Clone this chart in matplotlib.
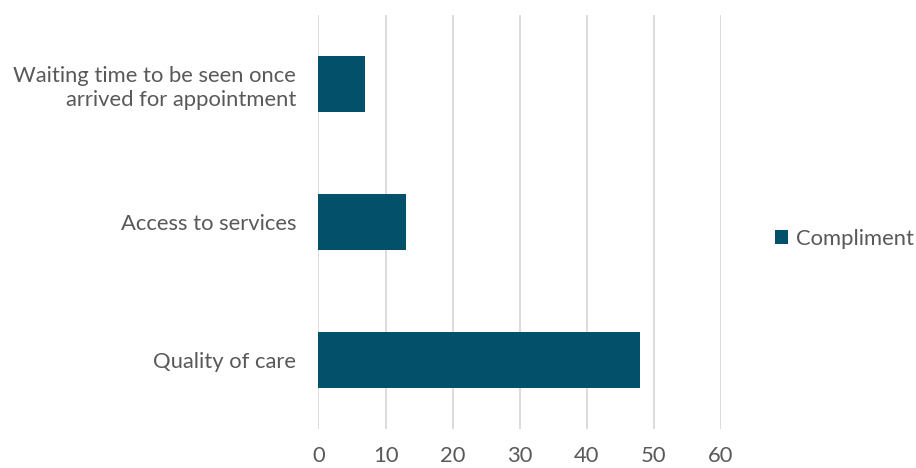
import matplotlib
matplotlib.use('Agg')
import matplotlib.pyplot as plt

# categories bottom-to-top, as drawn
categories = ["Quality of care", "Access to services",
              "Waiting time to be seen once\narrived for appointment"]
compliment = [48, 13, 7]
xticks = [0, 10, 20, 30, 40, 50, 60]

plt.rcParams['font.family'] = ['Lato', 'DejaVu Sans']
text_col = '#595959'
bar_col = '#03506B'
fs = 15.8

fig = plt.figure(figsize=(9.16, 4.68), dpi=100)
ax = fig.add_axes([0.3477, 0.0833, 0.7868 - 0.3477, 0.968 - 0.0833])

r = list(range(len(categories)))
ax.barh(r, compliment, height=0.4, color=bar_col, label='Compliment', zorder=3)

ax.set_xlim(0, 60)
ax.set_ylim(-0.5, 2.5)
ax.set_xticks(xticks)
ax.set_xticklabels([str(t) for t in xticks], fontsize=fs, color=text_col)
ax.set_yticks(r)
ax.set_yticklabels(categories, fontsize=fs, color=text_col, linespacing=1.25)
ax.tick_params(axis='both', length=0)
ax.tick_params(axis='x', pad=12)
ax.tick_params(axis='y', pad=16)
ax.grid(axis='x', color='#D9D9D9', linewidth=1.3, zorder=0)
for s in ax.spines.values():
    s.set_visible(False)

fig.legend(loc='center left', bbox_to_anchor=(0.824, 0.49), frameon=False,
           fontsize=fs, labelcolor=text_col, handlelength=0.62, handleheight=0.62,
           handletextpad=0.35)

plt.savefig('out.png')
